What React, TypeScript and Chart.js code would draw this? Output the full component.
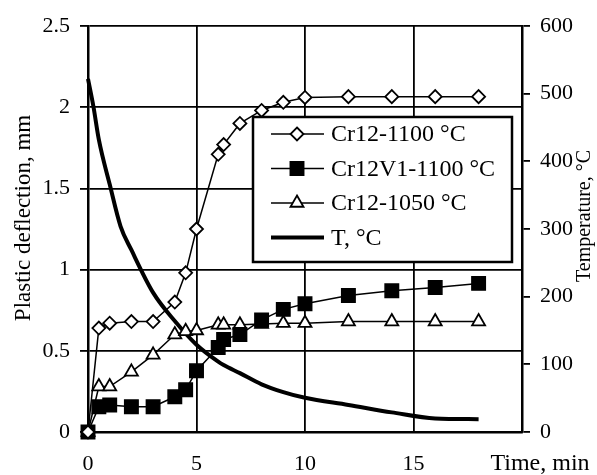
import React, { useEffect, useRef } from "react";
import { Chart, registerables } from "chart.js";

Chart.register(...registerables);

const times = [0, 0.5, 1, 2, 3, 4, 4.5, 5, 6, 6.25, 7, 8, 9, 10, 12, 14, 16, 18];
const cr12_1100 = [0, 0.64, 0.67, 0.68, 0.68, 0.8, 0.98, 1.25, 1.71, 1.77, 1.9, 1.98, 2.03, 2.06, 2.065, 2.065, 2.065, 2.065];
const cr12v1_1100 = [0, 0.156, 0.166, 0.156, 0.156, 0.217, 0.26, 0.377, 0.52, 0.57, 0.6, 0.69, 0.755, 0.79, 0.84, 0.87, 0.89, 0.915];
const cr12_1050 = [0, 0.28, 0.28, 0.37, 0.475, 0.6, 0.62, 0.625, 0.66, 0.66, 0.66, 0.665, 0.67, 0.67, 0.68, 0.68, 0.68, 0.68];
const tempTimes = [0, 0.25, 0.5, 1, 1.5, 2, 3, 4, 5, 6, 6.25, 7, 8, 9, 10, 12, 14, 16, 18];
const tempValues = [522, 481, 432, 366, 304, 269, 206, 164, 129, 104, 99, 87, 70.5, 59, 50.5, 40, 29, 20, 19];

const seriesLabels = ["Cr12-1100 °C", "Cr12V1-1100 °C", "Cr12-1050 °C", "T, °C"];
const xTicks = [0, 5, 10, 15];
const xTitle = "Time, min";
const yTitle = "Plastic deflection, mm";
const y1Title = "Temperature, °C";

const FONT = "'Liberation Serif', 'Times New Roman', Tinos, serif";

function drawMarker(ctx: CanvasRenderingContext2D, style: string, x: number, y: number, r: number, fill: string, bw: number) {
  ctx.beginPath();
  if (style === "rectRot") {
    ctx.moveTo(x, y - r);
    ctx.lineTo(x + r, y);
    ctx.lineTo(x, y + r);
    ctx.lineTo(x - r, y);
  } else if (style === "rect") {
    const s = r * Math.SQRT1_2;
    ctx.rect(x - s, y - s, 2 * s, 2 * s);
  } else if (style === "triangle") {
    let a = 0;
    ctx.moveTo(x + Math.sin(a) * r, y - Math.cos(a) * r);
    a += (2 * Math.PI) / 3;
    ctx.lineTo(x + Math.sin(a) * r, y - Math.cos(a) * r);
    a += (2 * Math.PI) / 3;
    ctx.lineTo(x + Math.sin(a) * r, y - Math.cos(a) * r);
  }
  ctx.closePath();
  ctx.fillStyle = fill;
  ctx.fill();
  ctx.lineWidth = bw;
  ctx.strokeStyle = "#000";
  ctx.stroke();
}

const legendPlugin = {
  id: "boxLegend",
  afterDatasetsDraw(chart: any) {
    const ctx: CanvasRenderingContext2D = chart.ctx;
    const a = chart.chartArea;
    const x0 = a.left + 165;
    const y0 = a.top + 91;
    const w = 259;
    const h = 145;
    ctx.save();
    ctx.fillStyle = "#fff";
    ctx.fillRect(x0, y0, w, h);
    ctx.lineWidth = 2.5;
    ctx.strokeStyle = "#000";
    ctx.strokeRect(x0, y0, w, h);
    chart.data.datasets.forEach((ds: any, i: number) => {
      const cy = y0 + 17 + i * 34.5;
      ctx.beginPath();
      ctx.moveTo(x0 + 18, cy);
      ctx.lineTo(x0 + 71, cy);
      ctx.lineWidth = ds.borderWidth;
      ctx.strokeStyle = "#000";
      ctx.stroke();
      if (ds.pointRadius > 0) {
        drawMarker(ctx, ds.pointStyle, x0 + 44, cy, ds.pointRadius, ds.pointBackgroundColor, ds.pointBorderWidth);
      }
      ctx.fillStyle = "#000";
      ctx.font = `24px ${FONT}`;
      ctx.textAlign = "left";
      ctx.textBaseline = "middle";
      ctx.fillText(ds.label, x0 + 78, cy + 1);
    });
    ctx.restore();
  },
};

const titlePlugin = {
  id: "axisTitles",
  afterDraw(chart: any) {
    const ctx: CanvasRenderingContext2D = chart.ctx;
    const a = chart.chartArea;
    ctx.save();
    ctx.fillStyle = "#000";
    ctx.textAlign = "center";
    ctx.textBaseline = "middle";
    ctx.font = `24px ${FONT}`;
    ctx.fillText(xTitle, a.right + 18, a.bottom + 32);
    ctx.save();
    ctx.font = `23px ${FONT}`;
    ctx.translate(24, (a.top + a.bottom) / 2 - 11);
    ctx.rotate(-Math.PI / 2);
    ctx.fillText(yTitle, 0, 0);
    ctx.restore();
    ctx.save();
    ctx.font = `20px ${FONT}`;
    ctx.translate(a.right + 63, (a.top + a.bottom) / 2 - 13);
    ctx.rotate(-Math.PI / 2);
    ctx.fillText(y1Title, 0, 0);
    ctx.restore();
    ctx.restore();
  },
};

export default function App() {
  const ref = useRef<HTMLCanvasElement | null>(null);
  useEffect(() => {
    let chart: Chart | null = null;
    let cancelled = false;
    const build = () => {
      if (cancelled || !ref.current) return;
      Chart.defaults.font.family = FONT;
      Chart.defaults.color = "#000";
      const mk = (arr: number[]) => times.map((t, i) => ({ x: t, y: arr[i] }));
      chart = new Chart(ref.current, {
        type: "line",
        data: {
          datasets: [
            {
              label: seriesLabels[0],
              data: mk(cr12_1100),
              borderColor: "#000",
              borderWidth: 1.5,
              pointStyle: "rectRot",
              pointRadius: 6.5,
              pointBackgroundColor: "#fff",
              pointBorderColor: "#000",
              pointBorderWidth: 1.8,
              yAxisID: "y",
              clip: false,
            },
            {
              label: seriesLabels[1],
              data: mk(cr12v1_1100),
              borderColor: "#000",
              borderWidth: 1.5,
              pointStyle: "rect",
              pointRadius: 9.5,
              pointBackgroundColor: "#000",
              pointBorderColor: "#000",
              pointBorderWidth: 1.5,
              yAxisID: "y",
              clip: false,
            },
            {
              label: seriesLabels[2],
              data: mk(cr12_1050),
              borderColor: "#000",
              borderWidth: 1.5,
              pointStyle: "triangle",
              pointRadius: 7.5,
              pointBackgroundColor: "#fff",
              pointBorderColor: "#000",
              pointBorderWidth: 1.8,
              yAxisID: "y",
              clip: false,
            },
            {
              label: seriesLabels[3],
              data: tempTimes.map((t, i) => ({ x: t, y: tempValues[i] })),
              borderColor: "#000",
              borderWidth: 4,
              pointRadius: 0,
              cubicInterpolationMode: "monotone",
              yAxisID: "y1",
              clip: false,
            },
          ] as any,
        },
        options: {
          animation: false,
          responsive: false,
          layout: { padding: { top: 26, left: 0, right: 0, bottom: 0 } },
          plugins: { legend: { display: false }, tooltip: { enabled: false } },
          scales: {
            x: {
              type: "linear",
              min: 0,
              max: 20,
              afterBuildTicks: (s: any) => {
                s.ticks = [...xTicks, 20].map((v) => ({ value: v }));
              },
              ticks: {
                callback: (v: any) => (xTicks.includes(Number(v)) ? String(v) : ""),
                font: { size: 22, family: FONT },
                padding: 19,
                maxRotation: 0,
                autoSkip: false,
              },
              grid: { color: "#000", lineWidth: 1.8, drawTicks: false },
              border: { color: "#000", width: 2.5 },
              afterFit: (s: any) => {
                s.height = 43;
              },
            },
            y: {
              position: "left",
              min: 0,
              max: 2.5,
              ticks: {
                stepSize: 0.5,
                font: { size: 22, family: FONT },
                padding: 10,
                callback: (v: any) => String(Number(v)),
              },
              grid: { color: "#000", lineWidth: 1.8, drawTicks: true, tickLength: 8 },
              border: { color: "#000", width: 2.5 },
              afterFit: (s: any) => {
                s.width = 88;
              },
            },
            y1: {
              position: "right",
              min: 0,
              max: 600,
              ticks: {
                stepSize: 100,
                font: { size: 22, family: FONT },
                padding: 10,
                callback: (v: any) => String(Number(v)),
              },
              grid: { color: "#000", lineWidth: 1.8, drawOnChartArea: false, drawTicks: true, tickLength: 8 },
              border: { color: "#000", width: 2.5 },
              afterFit: (s: any) => {
                s.width = 75;
              },
            },
          },
        } as any,
        plugins: [legendPlugin, titlePlugin],
      });
    };
    const fontsApi: any = (document as any).fonts;
    if (fontsApi && fontsApi.load) {
      Promise.all([
        fontsApi.load("22px 'Liberation Serif'"),
        fontsApi.load("22px 'Times New Roman'"),
      ])
        .catch(() => null)
        .then(build);
    } else {
      build();
    }
    return () => {
      cancelled = true;
      if (chart) chart.destroy();
    };
  }, []);
  return (
    <div style={{ position: "absolute", left: 0, top: 0, width: 597, height: 475, background: "#fff" }}>
      <canvas ref={ref} width={597} height={475} style={{ display: "block" }} />
    </div>
  );
}
